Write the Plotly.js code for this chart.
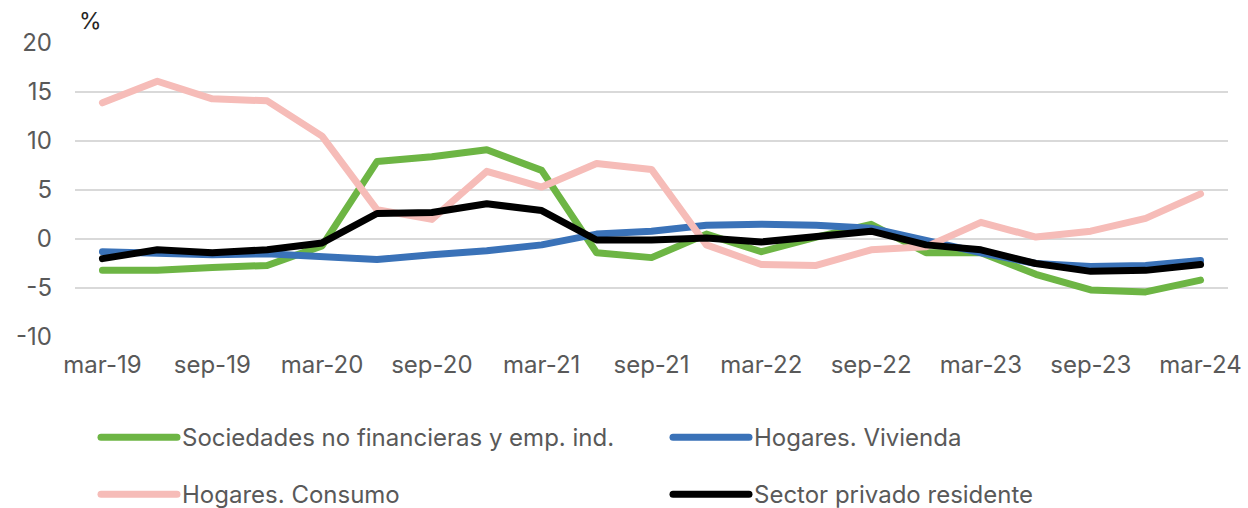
<!DOCTYPE html>
<html>
<head>
<meta charset="utf-8">
<script src="https://cdn.plot.ly/plotly-3.0.1.min.js"></script>
<style>
html,body{margin:0;padding:0;background:#fff;}
#chart{width:1248px;height:508px;}
#chart .scatterlayer path.js-line, #chart .shapelayer path{stroke-linecap:round !important;stroke-linejoin:round !important;}
</style>
</head>
<body>
<div id="chart"></div>
<script>
const quarters = ["mar-19","jun-19","sep-19","dic-19","mar-20","jun-20","sep-20","dic-20","mar-21","jun-21","sep-21","dic-21","mar-22","jun-22","sep-22","dic-22","mar-23","jun-23","sep-23","dic-23","mar-24"];
const sociedades = [-3.2,-3.2,-2.9,-2.7,-0.7,7.9,8.4,9.1,7.0,-1.4,-1.9,0.5,-1.3,0.2,1.5,-1.4,-1.4,-3.6,-5.2,-5.4,-4.2];
const vivienda   = [-1.3,-1.4,-1.6,-1.5,-1.8,-2.1,-1.6,-1.2,-0.6,0.5,0.8,1.4,1.5,1.4,1.1,-0.2,-1.4,-2.5,-2.8,-2.7,-2.2];
const consumo    = [13.9,16.1,14.3,14.1,10.5,3.0,2.0,6.9,5.3,7.7,7.1,-0.6,-2.6,-2.7,-1.1,-0.8,1.7,0.2,0.8,2.1,4.6];
const privado    = [-2.0,-1.1,-1.4,-1.1,-0.4,2.6,2.7,3.6,2.9,-0.1,-0.1,0.1,-0.3,0.2,0.8,-0.6,-1.1,-2.5,-3.3,-3.2,-2.6];
const seriesNames = ["Sociedades no financieras y emp. ind.","Hogares. Vivienda","Hogares. Consumo","Sector privado residente"];
const seriesColors = ["#6db544","#3a72b8","#f6bcb8","#000000"];
const seriesData = [sociedades, vivienda, consumo, privado];
const yTicks = [-10,-5,0,5,10,15,20];

const FONT = "Inter, 'Liberation Sans', Arial, sans-serif";
const GRAY = "#595959";

const traces = seriesData.map((d,i)=>({
  type:"scatter", mode:"lines", x: quarters, y: d, name: seriesNames[i],
  line:{color: seriesColors[i], width:7}, showlegend:false, hoverinfo:"skip"
}));

// custom legend (two columns, two rows)
const L = 75, W = 1153, T = 42.7, H = 294;
const px2x = p => (p - L)/W;
const px2y = p => 1 - (p - T)/H;
const legPos = [[101,437],[673,437],[101,494],[673,494]];
const shapes = [], annotations = [];
legPos.forEach((p,i)=>{
  shapes.push({type:"line", xref:"paper", yref:"paper", x0:px2x(p[0]), x1:px2x(p[0]+76), y0:px2y(p[1]), y1:px2y(p[1]), line:{color:seriesColors[i], width:7}});
  annotations.push({xref:"paper", yref:"paper", x:px2x(p[0]+79), y:px2y(p[1]), xanchor:"left", yanchor:"middle", showarrow:false, text:seriesNames[i], font:{family:FONT, size:24, color:GRAY}});
});
annotations.push({xref:"paper", yref:"paper", x:px2x(90), y:px2y(21), xanchor:"center", yanchor:"middle", showarrow:false, text:"%", font:{family:FONT, size:23, color:"#262626"}});

const layout = {
  width:1248, height:508,
  margin:{l:75, r:20, t:43, b:171},
  paper_bgcolor:"#fff", plot_bgcolor:"#fff",
  font:{family:FONT, color:GRAY, size:24},
  xaxis:{type:"category", range:[-0.5,20.5], tickmode:"linear", tick0:0, dtick:2,
         showgrid:false, showline:false, zeroline:false, ticks:"", ticklabelstandoff:11,
         tickfont:{family:FONT, size:24, color:GRAY}},
  yaxis:{range:[-10,20], tickvals:yTicks, ticktext:yTicks.map(String), showgrid:true, gridcolor:"#d9d9d9", gridwidth:2.5,
         zeroline:false, showline:false, ticks:"", ticklabelstandoff:22,
         tickfont:{family:FONT, size:24, color:GRAY}},
  shapes: shapes, annotations: annotations, showlegend:false
};
Plotly.newPlot("chart", traces, layout, {staticPlot:true, displayModeBar:false});
</script>
</body>
</html>
